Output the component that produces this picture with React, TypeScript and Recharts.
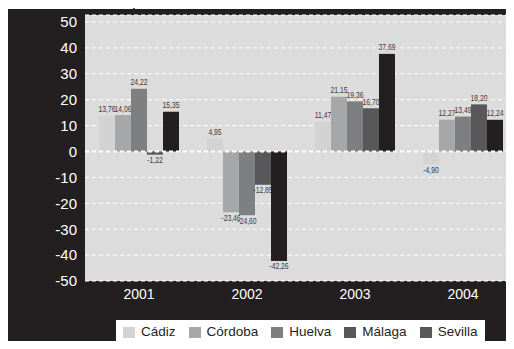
import { BarChart, Bar, XAxis, YAxis, CartesianGrid, Legend, ReferenceLine } from 'recharts';

const years = ['2001', '2002', '2003', '2004'];
const regions = ['Cádiz', 'Córdoba', 'Huelva', 'Málaga', 'Sevilla'];
const cadiz = [13.76, 4.95, 11.47, -4.9];
const cordoba = [14.06, -23.46, 21.15, 12.27];
const huelva = [24.22, -24.6, 19.36, 13.49];
const malaga = [-1.22, -12.85, 16.7, 18.2];
const sevilla = [15.35, -42.26, 37.69, 12.24];
const yTicks = [50, 40, 30, 20, 10, 0, -10, -20, -30, -40, -50];

const series = [cadiz, cordoba, huelva, malaga, sevilla];
const barColors = ['#d3d3d4', '#a6a7a9', '#7e7f81', '#58585a', '#231f20'];
const legendColors = ['#d3d3d4', '#a6a7a9', '#7e7f81', '#58585a', '#58585a'];

const data = years.map((year, i) => {
    const row: Record<string, string | number> = { year };
    regions.forEach((r, j) => { row[r] = series[j][i]; });
    return row;
});

// bar + its value label drawn together, so the next bar can cover the label (like the original)
const makeShape = (key: string, color: string) => (props: any) => {
    const { x, y, width, height, payload } = props;
    const value = Number(payload[key]);
    const top = Math.min(y, y + height);
    const bottom = Math.max(y, y + height);
    const cy = value >= 0 ? top - 6.5 : bottom + 5.5;
    return (
        <g>
            <rect x={x} y={top} width={width} height={bottom - top} fill={color} />
            <text
                transform={`translate(${x + width / 2},${cy}) scale(0.8,1)`}
                dy="0.35em"
                textAnchor="middle"
                fontSize={8.5}
                fill="#3a3a3a"
                fontFamily="'Liberation Sans', Arial, sans-serif"
            >
                {value.toFixed(2).replace('.', ',')}
            </text>
        </g>
    );
};

const LegendBox = () => (
    <div style={{
        display: 'flex', alignItems: 'center', height: 24, paddingLeft: 7,
        background: '#fff', boxSizing: 'border-box',
    }}>
        {regions.map((r, i) => (
            <div key={r} style={{ display: 'flex', alignItems: 'center', marginRight: 13 }}>
                <span style={{ width: 12, height: 11, background: legendColors[i], marginRight: 6 }} />
                <span style={{ fontSize: 13.5, color: '#231f20', lineHeight: '24px' }}>{r}</span>
            </div>
        ))}
    </div>
);

export default function App() {
    return (
        <div style={{
            position: 'relative', margin: -8, width: 514, height: 349, overflow: 'hidden',
            background: '#fff', fontFamily: "'Liberation Sans', Arial, sans-serif",
        }}>
            <div style={{ position: 'absolute', left: 7, top: 9, right: 0, bottom: 0, background: '#231f20' }} />
            <div style={{ position: 'absolute', left: 133, top: 0, width: 2, height: 9, background: '#555' }} />
            <div style={{ position: 'absolute', left: 0, top: 0 }}>
                <BarChart
                    width={520}
                    height={349}
                    data={data}
                    margin={{ top: 15, right: 3, bottom: 38, left: 0 }}
                    barCategoryGap={14}
                    barGap={0}
                >
                    <CartesianGrid
                        vertical={false}
                        fill="#dcdcdd"
                        stroke="#ffffff"
                        strokeDasharray="4 3"
                    />
                    <XAxis
                        dataKey="year"
                        height={30}
                        tickLine={false}
                        axisLine={false}
                        tick={{ fill: '#ffffff', fontSize: 14 }}
                    />
                    <YAxis
                        width={85}
                        domain={[-50, 50]}
                        ticks={yTicks}
                        padding={{ top: 7, bottom: 0 }}
                        tickLine={false}
                        axisLine={false}
                        interval={0}
                        tick={{ fill: '#ffffff', fontSize: 15 }}
                    />
                    <ReferenceLine y={0} stroke="#ffffff" strokeWidth={2} strokeDasharray="4 3" />
                    {regions.map((r, i) => (
                        <Bar
                            key={r}
                            dataKey={r}
                            fill={barColors[i]}
                            isAnimationActive={false}
                            shape={makeShape(r, barColors[i])}
                        />
                    ))}
                    <Legend
                        layout="horizontal"
                        verticalAlign="middle"
                        align="center"
                        content={() => <LegendBox />}
                        wrapperStyle={{ position: 'absolute', left: 116, top: 320, width: 369, height: 24 }}
                    />
                </BarChart>
            </div>
        </div>
    );
}
